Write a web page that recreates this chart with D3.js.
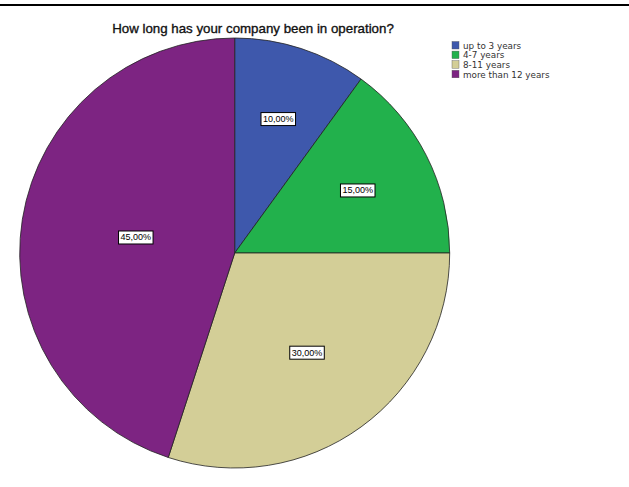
<!DOCTYPE html>
<html>
<head>
<meta charset="utf-8">
<script src="https://cdn.jsdelivr.net/npm/d3@7"></script>
<style>
  html, body { margin: 0; padding: 0; background: #fff; }
  svg { display: block; }
</style>
</head>
<body>
<svg id="chart" width="629" height="487"></svg>
<script>
const title = "How long has your company been in operation?";
const categories = ["up to 3 years", "4-7 years", "8-11 years", "more than 12 years"];
const values = [10, 15, 30, 45];
const colors = ["#3e58ac", "#22b14c", "#d3ce97", "#7d2482"];

const svg = d3.select("#chart");
const W = 629, H = 487;
const cx = 234.7, cy = 253, R = 215;

// top rule
svg.append("line").attr("x1", 0).attr("x2", W).attr("y1", 5).attr("y2", 5)
  .attr("stroke", "#000").attr("stroke-width", 2);

// title
svg.append("text").attr("x", 253).attr("y", 33).attr("text-anchor", "middle")
  .attr("font-family", "Liberation Sans, Arial, sans-serif").attr("font-size", 13.3)
  .attr("fill", "#111").attr("stroke", "#111").attr("stroke-width", 0.35)
  .text(title);

const data = categories.map((c, i) => ({ cat: c, value: values[i], color: colors[i] }));
const pie = d3.pie().value(d => d.value).sort(null);
const arcs = pie(data);
const arc = d3.arc().innerRadius(0).outerRadius(R);

const g = svg.append("g").attr("transform", `translate(${cx},${cy})`);
g.selectAll("path.slice").data(arcs).join("path")
  .attr("class", "slice")
  .attr("d", arc)
  .attr("fill", d => d.data.color)
  .attr("stroke", "#222")
  .attr("stroke-width", 0.8);

const total = d3.sum(values);
const fmt = v => (v / total * 100).toFixed(2).replace(".", ",") + "%";

// labels at sector area centroid
const lab = g.selectAll("g.lab").data(arcs).join("g").attr("class", "lab")
  .attr("transform", d => {
    const a = d.endAngle - d.startAngle;
    const dist = 4 * R * Math.sin(a / 2) / (3 * a);
    const mid = (d.startAngle + d.endAngle) / 2;
    return `translate(${dist * Math.sin(mid)},${-dist * Math.cos(mid)})`;
  });
lab.each(function(d) {
  const s = d3.select(this);
  const t = s.append("text").attr("text-anchor", "middle").attr("dy", "0.35em")
    .attr("font-family", "Liberation Sans, Arial, sans-serif").attr("font-size", 9)
    .attr("fill", "#000").text(fmt(d.data.value));
  const bb = t.node().getBBox();
  s.insert("rect", "text")
    .attr("x", bb.x - 2).attr("y", bb.y - 1.5)
    .attr("width", bb.width + 4).attr("height", bb.height + 3)
    .attr("fill", "#fff").attr("stroke", "#000").attr("stroke-width", 1);
});

// legend
const leg = svg.append("g").attr("transform", "translate(452,41.5)");
const items = leg.selectAll("g").data(data).join("g")
  .attr("transform", (d, i) => `translate(0,${i * 9.6})`);
items.append("rect").attr("width", 7).attr("height", 7.5)
  .attr("fill", d => d.color).attr("stroke", "#555").attr("stroke-width", 0.4);
items.append("text").attr("x", 11).attr("y", 7.2)
  .attr("font-family", "DejaVu Sans, sans-serif").attr("font-size", 8.8)
  .attr("fill", "#333").text(d => d.cat);
</script>
</body>
</html>
